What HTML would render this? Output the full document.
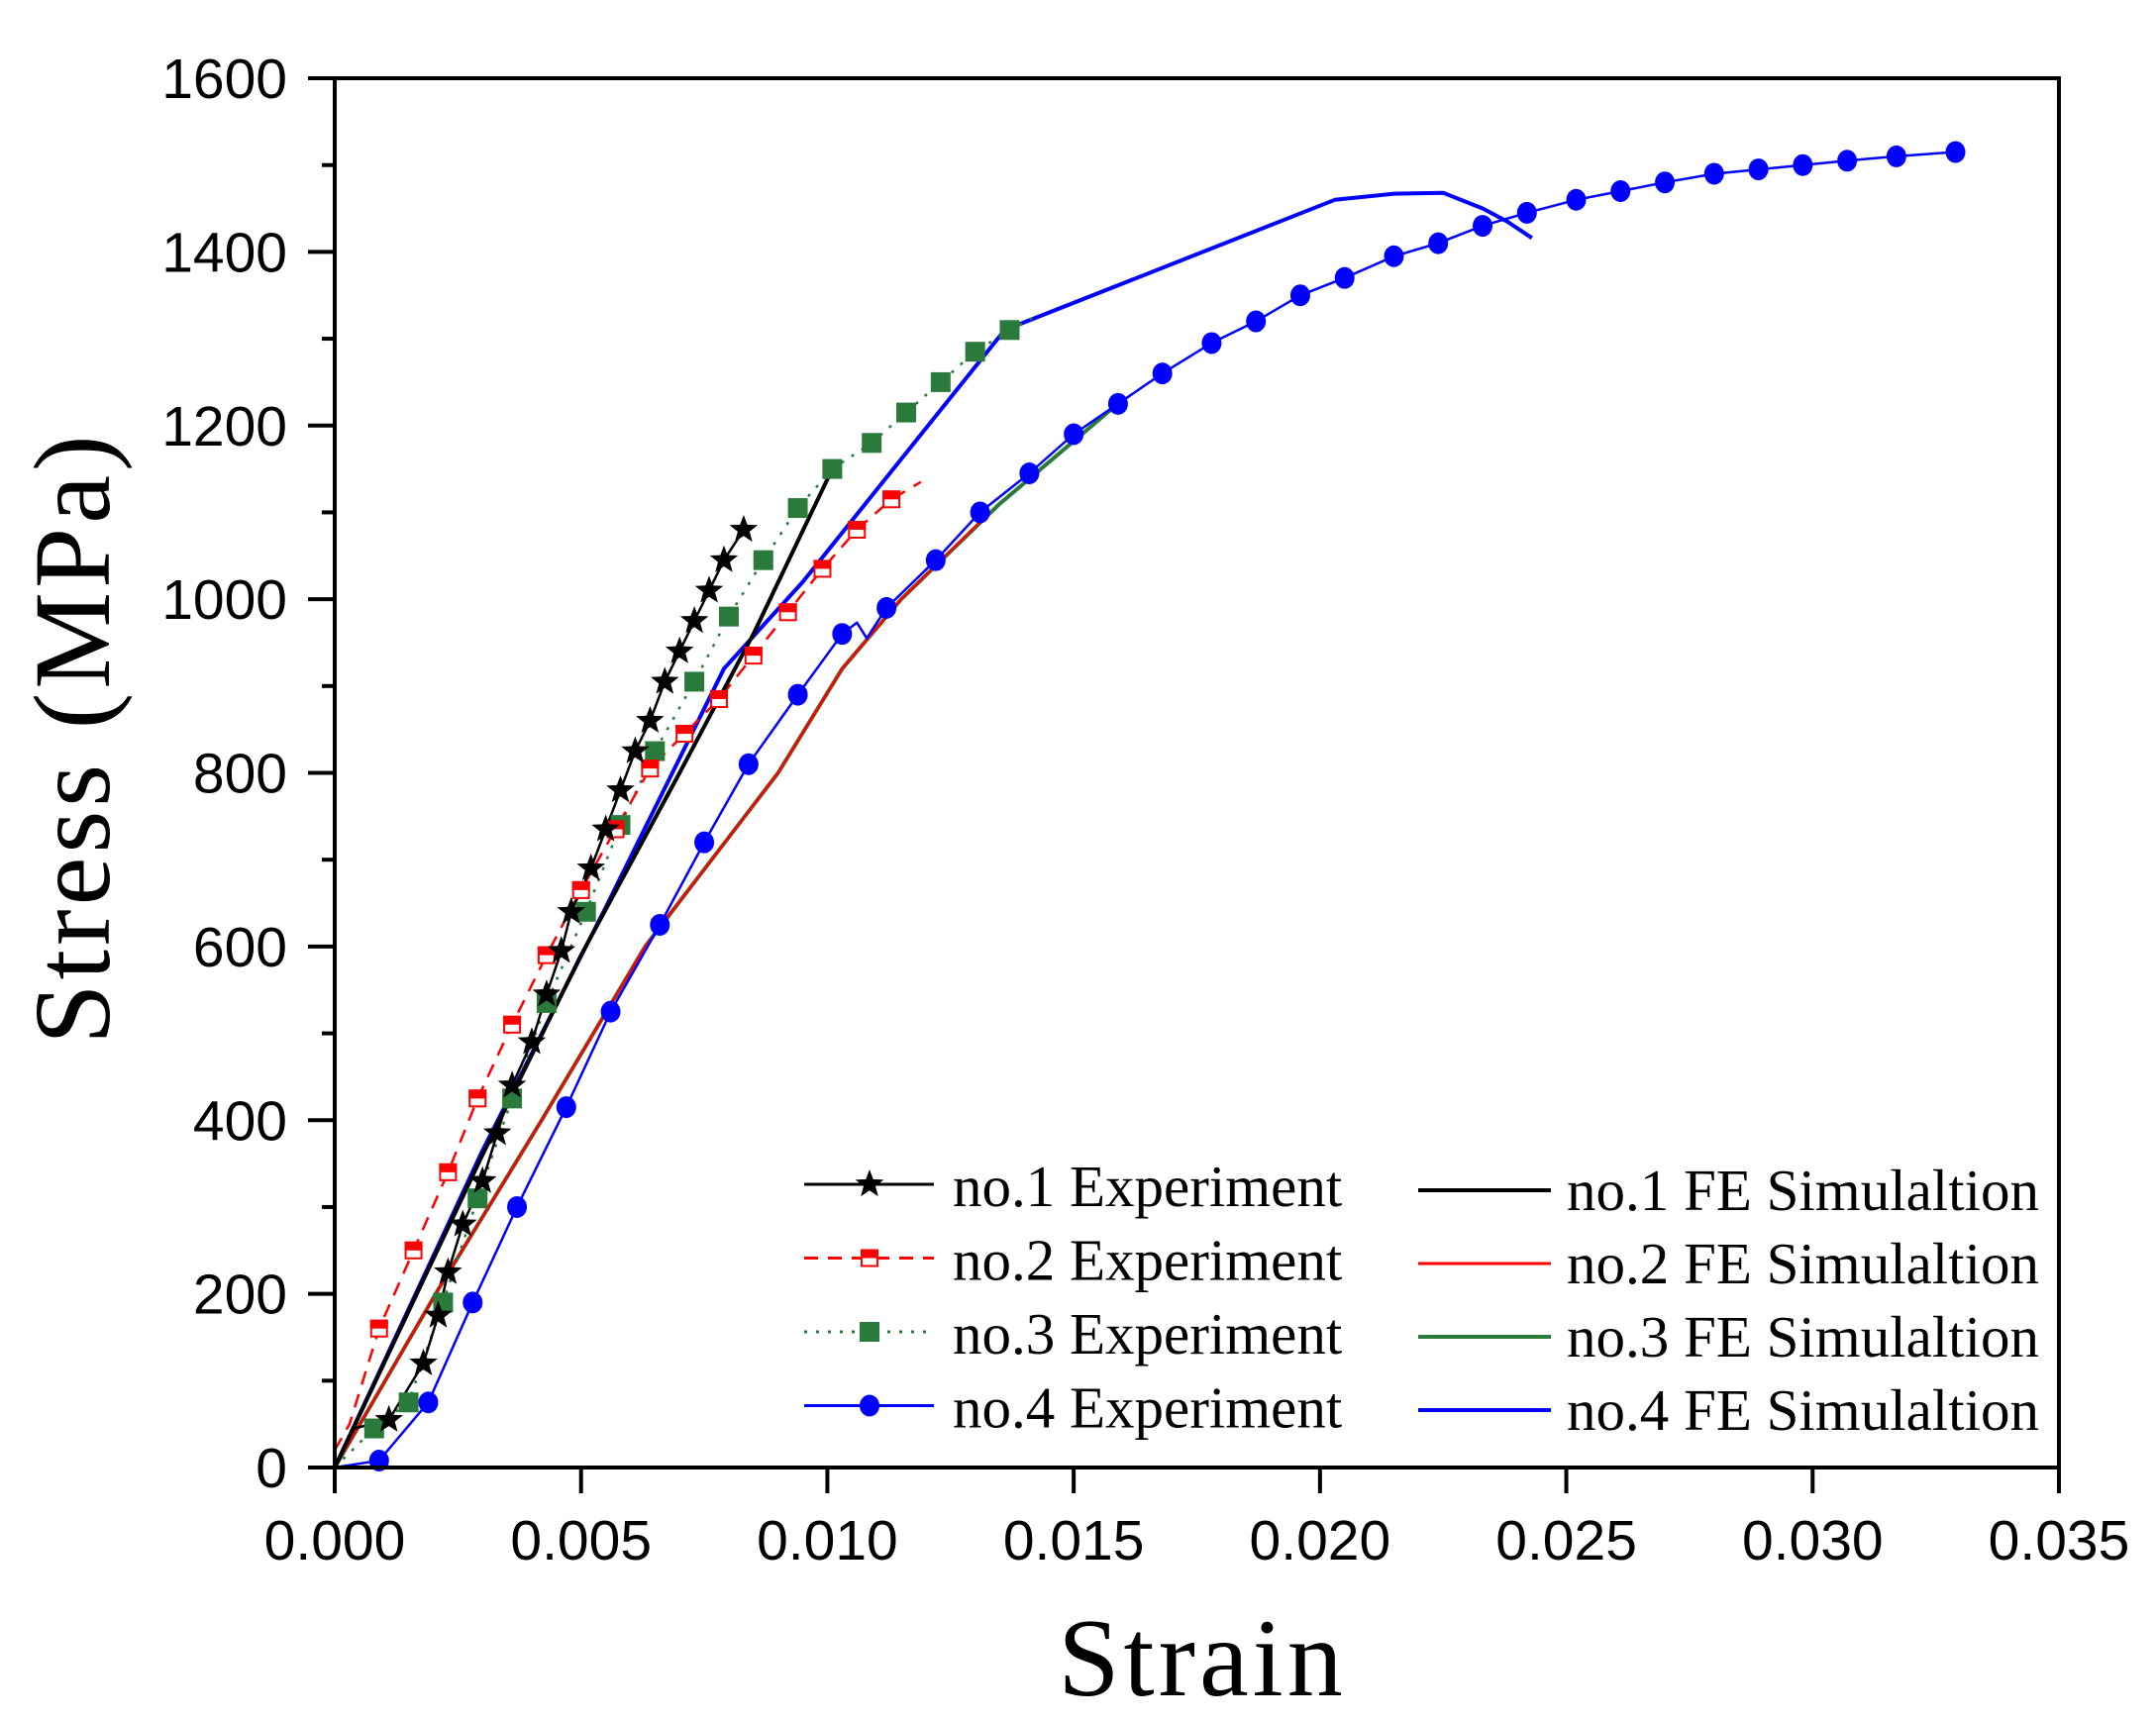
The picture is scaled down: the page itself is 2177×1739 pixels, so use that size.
<!DOCTYPE html>
<html><head><meta charset="utf-8"><style>
html,body{margin:0;padding:0;background:#fff}
svg{display:block}
text{font-family:"Liberation Sans",sans-serif}
.serif{font-family:"Liberation Serif",serif}
</style></head><body>
<svg id="chart" width="2177" height="1739" viewBox="0 0 2177 1739" xmlns="http://www.w3.org/2000/svg">
<g id="plot"></g>
<g id="axes"></g>
<text class="serif" x="1214" y="1712" font-size="112" letter-spacing="4" text-anchor="middle">Strain</text>
<text class="serif" transform="translate(110,745) rotate(-90)" font-size="110" letter-spacing="4" text-anchor="middle">Stress (MPa)</text>
<g id="legend"></g>
</svg>
<script>
const xTicks=[0,0.005,0.010,0.015,0.020,0.025,0.030,0.035];
const xTickLabels=["0.000","0.005","0.010","0.015","0.020","0.025","0.030","0.035"];
const yTicks=[0,200,400,600,800,1000,1200,1400,1600];
const yTickLabels=["0","200","400","600","800","1000","1200","1400","1600"];

const exp1Strain=[0,0.0004,0.0011,0.0018,0.0021,0.0023,0.0026,0.0030,0.0033,0.0036,0.0040,0.0043,0.0046,0.0048,0.0052,0.0055,0.0058,0.0061,0.0064,0.0067,0.0070,0.0073,0.0076,0.0079,0.0083];
const exp1Stress=[0,45,55,120,175,225,280,330,385,440,490,545,595,640,690,735,780,825,860,905,940,975,1010,1045,1080];
const exp1Markers=[2,3,4,5,6,7,8,9,10,11,12,13,14,15,16,17,18,19,20,21,22,23,24];

const exp2Strain=[0,0.0003,0.0009,0.0016,0.0023,0.0029,0.0036,0.0043,0.0050,0.0057,0.0064,0.0071,0.0078,0.0085,0.0092,0.0099,0.0106,0.0113,0.0119];
const exp2Stress=[20,50,160,250,340,425,510,590,665,735,805,845,885,935,985,1035,1080,1115,1135];
const exp2Markers=[2,3,4,5,6,7,8,9,10,11,12,13,14,15,16,17];

const exp3Strain=[0,0.0008,0.0015,0.0022,0.0029,0.0036,0.0043,0.0051,0.0058,0.0065,0.0073,0.0080,0.0087,0.0094,0.0101,0.0109,0.0116,0.0123,0.0130,0.0137,0.0142];
const exp3Stress=[0,45,75,190,310,425,535,640,740,825,905,980,1045,1105,1150,1180,1215,1250,1285,1310,1325];
const exp3Markers=[1,2,3,4,5,6,7,8,9,10,11,12,13,14,15,16,17,18,19];

const exp4Strain=[0,0.0009,0.0019,0.0028,0.0037,0.0047,0.0056,0.0066,0.0075,0.0084,0.0094,0.0103,0.0106,0.0108,0.0112,0.0122,0.0131,0.0141,0.0150,0.0159,0.0168,0.0178,0.0187,0.0196,0.0205,0.0215,0.0224,0.0233,0.0242,0.0252,0.0261,0.0270,0.0280,0.0289,0.0298,0.0307,0.0317,0.0329];
const exp4Stress=[0,8,75,190,300,415,525,625,720,810,890,960,973,955,990,1045,1100,1145,1190,1225,1260,1295,1320,1350,1370,1395,1410,1430,1445,1460,1470,1480,1490,1495,1500,1505,1510,1515];
const exp4Markers=[1,2,3,4,5,6,7,8,9,10,11,14,15,16,17,18,19,20,21,22,23,24,25,26,27,28,29,30,31,32,33,34,35,36,37];

const fe1Strain=[0,0.003,0.005,0.007,0.0085,0.0101];
const fe1Stress=[0,360,590,800,960,1150];
const fe2Strain=[0,0.0021,0.0042,0.0063,0.0090,0.0103,0.0115,0.0133];
const fe2Stress=[0,205,400,600,800,920,1000,1100];
const fe3Strain=[0,0.0021,0.0042,0.0063,0.0090,0.0103,0.0115,0.0135,0.0160];
const fe3Stress=[0,205,400,600,800,920,1000,1110,1230];
const fe4Strain=[0,0.003,0.0055,0.0079,0.0095,0.0136,0.0203,0.0215,0.0225,0.0233,0.0238,0.0243];
const fe4Stress=[0,365,645,920,1020,1310,1460,1467,1468,1450,1435,1416];

const X0=338,X1=2079,Y0=1482,Y1=79;
function X(v){return X0+v/0.035*(X1-X0);}
function Y(v){return Y0-v/1600*(Y0-Y1);}
const NS="http://www.w3.org/2000/svg";
function mk(tag,attrs,parent){const e=document.createElementNS(NS,tag);for(const k in attrs)e.setAttribute(k,attrs[k]);parent.appendChild(e);return e;}
const plot=document.getElementById('plot'),axes=document.getElementById('axes'),legend=document.getElementById('legend');

function line(xs,ys,color,w,dash,name){
  const p=xs.map((x,i)=>X(x).toFixed(1)+','+Y(ys[i]).toFixed(1)).join(' ');
  const e=mk('polyline',{points:p,fill:'none',stroke:color,'stroke-width':w,'stroke-linejoin':'round'},plot);
  if(dash)e.setAttribute('stroke-dasharray',dash);
  
  
}
function star(cx,cy,r,parent){
  let pts=[];for(let i=0;i<10;i++){const a=-Math.PI/2+i*Math.PI/5;const rr=i%2?r*0.42:r;pts.push((cx+rr*Math.cos(a)).toFixed(1)+','+(cy+rr*Math.sin(a)).toFixed(1));}
  return mk('polygon',{points:pts.join(' '),fill:'#000'},parent);
}
function marker(type,cx,cy,parent){
  let e;
  if(type==='star'){e=star(cx,cy,15,parent);}
  else if(type==='half'){e=mk('g',{},parent);mk('rect',{x:cx-8,y:cy-8,width:16,height:16,fill:'#fff',stroke:'#f00','stroke-width':2},e);mk('rect',{x:cx-9,y:cy-9,width:18,height:9,fill:'#f00'},e);}
  else if(type==='sq'){e=mk('rect',{x:cx-10,y:cy-10,width:20,height:20,fill:'#2a7a3c'},parent);}
  else {e=mk('ellipse',{cx:cx,cy:cy,rx:10,ry:11,fill:'#00f'},parent);}
  return e;
}
function markers(xs,ys,idx,type,name){
  idx.forEach(i=>{const e=marker(type,X(xs[i]),Y(ys[i]),plot);
    
    });
}
line(fe3Strain,fe3Stress,'#2a7a3c',4,null,'fe3-line');
line(fe2Strain,fe2Stress,'#f00',2.5,null,'fe2-line');
line(exp4Strain,exp4Stress,'#00f',2.5,null,'exp4-line');
line(fe4Strain,fe4Stress,'#00f',4,null,'fe4-line');
line(exp3Strain,exp3Stress,'#2a7a3c',2.5,'3,9','exp3-line');
line(exp2Strain,exp2Stress,'#f00',2.5,'14,10','exp2-line');
line(fe1Strain,fe1Stress,'#000',4,null,'fe1-line');
line(exp1Strain,exp1Stress,'#000',2.5,null,'exp1-line');
markers(exp4Strain,exp4Stress,exp4Markers,'circ','exp4-point');
markers(exp3Strain,exp3Stress,exp3Markers,'sq','exp3-point');
markers(exp2Strain,exp2Stress,exp2Markers,'half','exp2-point');
markers(exp1Strain,exp1Stress,exp1Markers,'star','exp1-point');

const fr=mk('rect',{x:X0,y:Y1,width:X1-X0,height:Y0-Y1,fill:'none',stroke:'#000','stroke-width':4},axes);


xTicks.forEach((v,i)=>{
  const t=mk('line',{x1:X(v),x2:X(v),y1:Y0,y2:Y0+26,stroke:'#000','stroke-width':4},axes);
  
  
  const l=mk('text',{x:X(v),y:1575,'font-size':57,'text-anchor':'middle'},axes);l.textContent=xTickLabels[i];
  
  
});
yTicks.forEach((v,i)=>{
  const t=mk('line',{x1:X0-27,x2:X0,y1:Y(v),y2:Y(v),stroke:'#000','stroke-width':4},axes);
  
  
  if(i<yTicks.length-1){const m=mk('line',{x1:X0-13,x2:X0,y1:Y(v+100),y2:Y(v+100),stroke:'#000','stroke-width':4},axes);
    
    }
  const l=mk('text',{x:290,y:Y(v)+20,'font-size':57,'text-anchor':'end'},axes);l.textContent=yTickLabels[i];
  
  
});

const legExp=[['no.1 Experiment','#000',null,'star'],['no.2 Experiment','#f00','14,10','half'],['no.3 Experiment','#2a7a3c','3,9','sq'],['no.4 Experiment','#00f',null,'circ']];
const legFe=[['no.1 FE Simulaltion','#000'],['no.2 FE Simulaltion','#f00'],['no.3 FE Simulaltion','#2a7a3c'],['no.4 FE Simulaltion','#00f']];
legExp.forEach((d,i)=>{
  const y=1196+i*74.5;
  const g=mk('g',{},legend);
  
  
  const ln=mk('line',{x1:812,x2:943,y1:y,y2:y,stroke:d[1],'stroke-width':3},g);
  if(d[2])ln.setAttribute('stroke-dasharray',d[2]);
  marker(d[3],878,y,g);
  const t=mk('text',{x:962,y:y+22,'font-size':59,class:'serif'},g);t.textContent=d[0];
});
legFe.forEach((d,i)=>{
  const y=1202+i*74;
  const g=mk('g',{},legend);
  
  
  mk('line',{x1:1432,x2:1566,y1:y,y2:y,stroke:d[1],'stroke-width':d[1]==='#f00'?3:4},g);
  const t=mk('text',{x:1582,y:y+20,'font-size':59,class:'serif'},g);t.textContent=d[0];
});
</script>
</body></html>
